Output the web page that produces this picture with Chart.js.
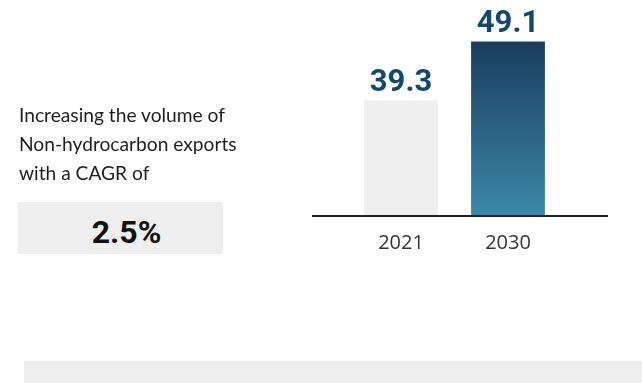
<!DOCTYPE html>
<html>
<head>
<meta charset="utf-8">
<script src="https://cdn.jsdelivr.net/npm/chart.js@4.4.1/dist/chart.umd.min.js"></script>
<style>
  html, body { margin: 0; padding: 0; background: #fff; }
  #wrap { position: relative; width: 642px; height: 383px; overflow: hidden; }
  #myChart { position: absolute; left: 0; top: 0; }
  .intro {
    position: absolute; left: 19px; top: 100px;
    font-family: Lato, sans-serif; font-size: 19.2px; line-height: 29px; color: #1e1e1e;
  }
  .cagr {
    position: absolute; left: 18px; top: 202px; width: 205px; height: 52px;
    background: #efefef; text-align: center; box-sizing: border-box;
    padding-left: 12px; padding-top: 4px;
    font-family: Roboto, sans-serif; font-weight: 700; font-size: 32px; line-height: 52px; color: #111;
  }
  .strip { position: absolute; left: 24px; top: 361px; right: 0; bottom: 0; background: #efefef; }
</style>
</head>
<body>
<div id="wrap">
  <canvas id="myChart" width="642" height="383"></canvas>
  <div class="intro">Increasing the volume of<br>Non-hydrocarbon exports<br>with a CAGR of</div>
  <div class="cagr">2.5%</div>
  <div class="strip"></div>
</div>
<script>
var years = ['2021', '2030'];
var exportsVolume = [39.3, 49.1];
var valueLabels = ['39.3', '49.1'];

var ctx = document.getElementById('myChart');

// value text over each bar
var barValues = {
  id: 'barValues',
  afterDatasetsDraw: function(chart) {
    var c = chart.ctx;
    var meta = chart.getDatasetMeta(0);
    c.save();
    c.font = 'bold 31px Roboto';
    c.fillStyle = '#134a6b';
    c.textAlign = 'center';
    c.textBaseline = 'alphabetic';
    meta.data.forEach(function(bar, i) {
      c.fillText(valueLabels[i], bar.x, bar.y - 9);
    });
    c.restore();
  }
};

// baseline runs wider than the bars
var baseLine = {
  id: 'baseLine',
  afterDraw: function(chart) {
    var c = chart.ctx;
    var y = chart.scales.y.getPixelForValue(chart.scales.y.min);
    c.save();
    c.strokeStyle = '#222';
    c.lineWidth = 2;
    c.beginPath();
    c.moveTo(312, y);
    c.lineTo(608, y);
    c.stroke();
    c.restore();
  }
};

function barColor(context) {
  if (context.dataIndex === 0) return '#efefef';
  var chart = context.chart;
  if (!chart.chartArea) return '#2d6a8c';
  var yScale = chart.scales.y;
  var top = yScale.getPixelForValue(exportsVolume[1]);
  var bottom = yScale.getPixelForValue(yScale.min);
  var g = chart.ctx.createLinearGradient(0, top, 0, bottom);
  g.addColorStop(0, '#1b3d5e');
  g.addColorStop(1, '#3b88a8');
  return g;
}

var myChart = new Chart(ctx, {
  type: 'bar',
  data: {
    labels: years,
    datasets: [{
      label: 'Non-hydrocarbon exports',
      data: exportsVolume,
      backgroundColor: barColor,
      borderWidth: 0,
      categoryPercentage: 1,
      barPercentage: 0.69
    }]
  },
  options: {
    responsive: false,
    animation: false,
    layout: { padding: { left: 347.5, right: 80.5, top: 0, bottom: 121 } },
    plugins: { legend: { display: false }, tooltip: { enabled: false } },
    scales: {
      x: {
        grid: { display: false },
        border: { display: false },
        ticks: { color: '#333', padding: 7, font: { family: 'Open Sans', size: 20 } }
      },
      y: {
        display: false,
        min: 20,
        max: 56
      }
    }
  },
  plugins: [barValues, baseLine]
});
</script>
</body>
</html>
